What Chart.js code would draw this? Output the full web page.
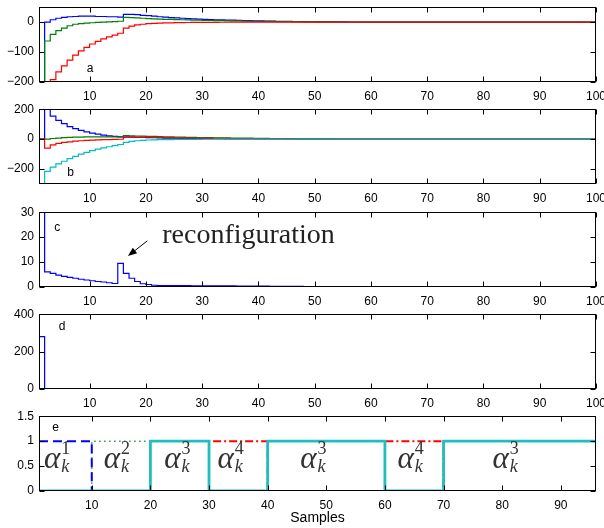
<!DOCTYPE html>
<html><head><meta charset="utf-8">
<script src="https://cdn.jsdelivr.net/npm/chart.js@4.4.1/dist/chart.umd.min.js"></script>
<style>
html,body{margin:0;padding:0;background:#fff;overflow:hidden;width:604px;height:528px;}
body{position:relative;}
.wrap{position:absolute;left:0;width:624px;}
</style></head><body>
<div class="wrap" id="wa"><canvas></canvas></div>
<div class="wrap" id="wb"><canvas></canvas></div>
<div class="wrap" id="wc"><canvas></canvas></div>
<div class="wrap" id="wd"><canvas></canvas></div>
<div class="wrap" id="we"><canvas></canvas></div>
<script>
// ---------- data ----------
const samples = Array.from({length: 100}, (_, i) => i + 1);

const xTicksMain = [10,20,30,40,50,60,70,80,90,100];
const xTicksE = [10,20,30,40,50,60,70,80,90];
const yTicksA = [-200,-100,0];
const yTicksB = [-200,0,200];
const yTicksC = [0,10,20,30];
const yTicksD = [0,200,400];
const yTicksE = [0,0.5,1,1.5];

const aBlue = [
 -350,0,8,13,16,18,19,20,20,20,
 19,19,18,18,17,26,26,25,23,22,
 20,18,17,15,14,13,12,11,10,9,
 8.5,8,7.5,7,6.5,6,5.5,5,4.5,4,
 3.6,3.2,2.9,2.6,2.3,2,1.8,1.6,1.4,1.2,
 1.1,1,0.9,0.8,0.7,0.6,0.5,0.5,0.4,0.4,
 0.3,0.3,0.3,0.2,0.2,0.2,0.2,0.1,0.1,0.1,
 0.1,0.1,0,0,0,0,0,0,0,0,
 0,0,0,0,0,0,0,0,0,0,
 0,0,0,0,0,0,0,0,0,0];
const aGreen = [
 -400,-63,-41,-28,-20,-12,-7,-5,-3,-2,
 -1,0,1,2,3,16,15,14,13,12,
 11,10,9.5,9,8.5,8,7.5,7,6.5,6,
 5.5,5,4.8,4.5,4.2,4,3.7,3.4,3.1,2.8,
 2.5,2.3,2.1,1.9,1.7,1.5,1.3,1.2,1.1,1,
 0.9,0.8,0.7,0.6,0.5,0.5,0.4,0.4,0.3,0.3,
 0.2,0.2,0.2,0.1,0.1,0.1,0.1,0,0,0,
 0,0,0,0,0,0,0,0,0,0,
 0,0,0,0,0,0,0,0,0,0,
 0,0,0,0,0,0,0,0,0,0];
const aRed = [
 -600,-400,-192,-166,-146,-127,-110,-96,-84,-73,
 -64,-56,-49,-43,-37,-20,-13,-9,-7,-5,
 -4,-3.2,-2.6,-2.1,-1.7,-1.4,-1.1,-0.9,-0.7,-0.6,
 -0.5,-0.4,-0.3,-0.3,-0.2,-0.2,-0.1,-0.1,-0.1,0,
 0,0,0,0,0,0,0,0,0,0,
 0,0,0,0,0,0,0,0,0,0,
 0,0,0,0,0,0,0,0,0,0,
 0,0,0,0,0,0,0,0,0,0,
 0,0,0,0,0,0,0,0,0,0,
 0,0,0,0,0,0,0,0,0,0];

const bBlue = [
 0,198,154,125,103,84,70,58,48,40,
 33,27,22,18,15,14,13,12,11,10,
 9,8,7.2,6.5,5.9,5.3,4.8,4.3,3.9,3.5,
 3.1,2.8,2.5,2.2,2,1.8,1.6,1.4,1.2,1.1,
 1,0.9,0.8,0.7,0.6,0.5,0.4,0.4,0.3,0.3,
 0.2,0.2,0.2,0.2,0.2,0.1,0.1,0.1,0.1,0.1,
 0,0,0,0,0,0,0,0,0,0,
 0,0,0,0,0,0,0,0,0,0,
 0,0,0,0,0,0,0,0,0,0,
 0,0,0,0,0,0,0,0,0,0];
const bGreen = [
 0,0,4,7,10,12,13,14,15,15,
 15,15,15,15,15,23,22,21,20,19,
 18,17,16,15,14,13,12,11,10.5,10,
 9.5,9,8.5,8,7.5,7,6.5,6,5.5,5,
 4.6,4.2,3.8,3.4,3,2.7,2.4,2.1,1.8,1.6,
 1.4,1.2,1,0.9,0.8,0.7,0.6,0.5,0.4,0.3,
 0.3,0.2,0.2,0.2,0.1,0.1,0.1,0.1,0,0,
 0,0,0,0,0,0,0,0,0,0,
 0,0,0,0,0,0,0,0,0,0,
 0,0,0,0,0,0,0,0,0,0];
const bRed = [
 0,-60,-38,-29,-22,-18,-14,-11,-9,-7,
 -5,-4,-3,-2,-1,15,15,14,14,13,
 12,11,10,9.5,9,8.5,8,7.5,7,6.5,
 6,5.5,5,4.6,4.2,3.8,3.4,3,2.7,2.4,
 2.1,1.8,1.6,1.4,1.2,1,0.9,0.8,0.7,0.6,
 0.5,0.4,0.4,0.3,0.3,0.2,0.2,0.1,0.1,0.1,
 0,0,0,0,0,0,0,0,0,0,
 0,0,0,0,0,0,0,0,0,0,
 0,0,0,0,0,0,0,0,0,0,
 0,0,0,0,0,0,0,0,0,0];
const bCyan = [
 -400,-216,-187,-165,-148,-130,-115,-100,-88,-77,
 -67,-59,-51,-44,-36,-22,-15,-11,-8,-6,
 -5,-4,-3.5,-3,-2.5,-2.1,-1.8,-1.5,-1.2,-1,
 -0.8,-0.7,-0.6,-0.5,-0.4,-0.3,-0.3,-0.2,-0.2,-0.1,
 0,0,0,0,0,0,0,0,0,0,
 0,0,0,0,0,0,0,0,0,0,
 0,0,0,0,0,0,0,0,0,0,
 0,0,0,0,0,0,0,0,0,0,
 0,0,0,0,0,0,0,0,0,0,
 0,0,0,0,0,0,0,0,0,0];

const cBlue = [
 60,6.1,5.5,4.8,4.3,3.9,3.5,3.1,2.8,2.5,
 2.2,2,1.7,1.4,9.5,5.5,3.5,2.2,1.3,1,
 0.7,0.6,0.6,0.6,0.55,0.55,0.55,0.5,0.5,0.5,
 0.5,0.5,0.45,0.45,0.45,0.4,0.4,0.4,0.35,0.35,
 0.35,0.3,0.3,0.3,0.25,0.25,0.25,0.2,0.2,0.2,
 0.15,0.15,0.15,0.1,0.1,0.1,0.1,0.05,0.05,0.05,
 0,0,0,0,0,0,0,0,0,0,
 0,0,0,0,0,0,0,0,0,0,
 0,0,0,0,0,0,0,0,0,0,
 0,0,0,0,0,0,0,0,0,0];

const dBlue = [
 280,0,0,0,0,0,0,0,0,0,
 0,0,0,0,0,0,0,0,0,0,
 0,0,0,0,0,0,0,0,0,0,
 0,0,0,0,0,0,0,0,0,0,
 0,0,0,0,0,0,0,0,0,0,
 0,0,0,0,0,0,0,0,0,0,
 0,0,0,0,0,0,0,0,0,0,
 0,0,0,0,0,0,0,0,0,0,
 0,0,0,0,0,0,0,0,0,0,
 0,0,0,0,0,0,0,0,0,0];

const eAlpha1 = [
 1,1,1,1,1,1,1,1,1,0,
 0,0,0,0,0,0,0,0,0,0,
 0,0,0,0,0,0,0,0,0,0,
 0,0,0,0,0,0,0,0,0,0,
 0,0,0,0,0,0,0,0,0,0,
 0,0,0,0,0,0,0,0,0,0,
 0,0,0,0,0,0,0,0,0,0,
 0,0,0,0,0,0,0,0,0,0,
 0,0,0,0,0,0,0,0,0,0,
 0,0,0,0,0,0,0,0,0,0];
const eAlpha2 = [
 0,0,0,0,0,0,0,0,0,1,
 1,1,1,1,1,1,1,1,1,0,
 0,0,0,0,0,0,0,0,0,0,
 0,0,0,0,0,0,0,0,0,0,
 0,0,0,0,0,0,0,0,0,0,
 0,0,0,0,0,0,0,0,0,0,
 0,0,0,0,0,0,0,0,0,0,
 0,0,0,0,0,0,0,0,0,0,
 0,0,0,0,0,0,0,0,0,0,
 0,0,0,0,0,0,0,0,0,0];
const eAlpha3 = [
 0,0,0,0,0,0,0,0,0,0,
 0,0,0,0,0,0,0,0,0,1,
 1,1,1,1,1,1,1,1,1,0,
 0,0,0,0,0,0,0,0,0,1,
 1,1,1,1,1,1,1,1,1,1,
 1,1,1,1,1,1,1,1,1,0,
 0,0,0,0,0,0,0,0,0,1,
 1,1,1,1,1,1,1,1,1,1,
 1,1,1,1,1,1,1,1,1,1,
 1,1,1,1,1,1,1,1,1,1];
const eAlpha4 = [
 0,0,0,0,0,0,0,0,0,0,
 0,0,0,0,0,0,0,0,0,0,
 0,0,0,0,0,0,0,0,0,1,
 1,1,1,1,1,1,1,1,1,0,
 0,0,0,0,0,0,0,0,0,0,
 0,0,0,0,0,0,0,0,0,1,
 1,1,1,1,1,1,1,1,1,0,
 0,0,0,0,0,0,0,0,0,0,
 0,0,0,0,0,0,0,0,0,0,
 0,0,0,0,0,0,0,0,0,0];

// mode labels in panel e (x position in samples, superscript)
const eLabelX = [4.1, 14.3, 24.6, 33.7, 47.8, 64.4, 80.6];
const eLabelSup = ['1','2','3','4','3','4','3'];

// ---------- drawing ----------
const SANS = "'Liberation Sans', Arial, Helvetica, sans-serif";
const SERIF = "'Liberation Serif', 'Times New Roman', serif";
Chart.defaults.font.family = SANS;
Chart.defaults.color = '#000';

const fmt = v => (v < 0 ? '\u2212' + Math.abs(v) : String(v));

const boxPlugin = {
  id: 'matBox',
  afterDraw(chart) {
    const {ctx, chartArea: a, scales: {x, y}} = chart;
    ctx.save();
    ctx.strokeStyle = '#000';
    ctx.lineWidth = 1;
    const L = Math.round(a.left) + 0.5, R = Math.round(a.right) - 0.5;
    const T = Math.round(a.top) + 0.5, B = Math.round(a.bottom) - 0.5;
    ctx.beginPath();
    x.ticks.forEach(t => {
      const p = Math.round(x.getPixelForValue(t.value)) + 0.5;
      ctx.moveTo(p, B); ctx.lineTo(p, B - 5);
      ctx.moveTo(p, T); ctx.lineTo(p, T + 5);
    });
    y.ticks.forEach(t => {
      const p = Math.round(y.getPixelForValue(t.value)) + 0.5;
      ctx.moveTo(L, p); ctx.lineTo(L + 5, p);
      ctx.moveTo(R, p); ctx.lineTo(R - 5, p);
    });
    ctx.stroke();
    ctx.strokeRect(L, T, R - L, B - T);
    ctx.restore();
  }
};

function label(chart, text, xv, yv) {
  const {ctx, scales: {x, y}} = chart;
  ctx.save();
  ctx.font = '12px ' + SANS;
  ctx.fillStyle = '#000';
  ctx.textAlign = 'center';
  ctx.textBaseline = 'middle';
  ctx.fillText(text, x.getPixelForValue(xv), y.getPixelForValue(yv));
  ctx.restore();
}

const PAD_T = 10, PLOT_H = 77, AX_H = 24;

function panel(id, plotTop, cfg) {
  const wrap = document.getElementById(id);
  const extra = cfg.extraBottom || 0;
  const h = PAD_T + PLOT_H + AX_H + extra;
  wrap.style.top = (plotTop - PAD_T) + 'px';
  wrap.style.height = h + 'px';
  const canvas = wrap.querySelector('canvas');
  return new Chart(canvas, {
    type: 'line',
    data: {
      datasets: cfg.series.map(s => ({
        data: s.values.map((v, i) => ({x: samples[i], y: v})),
        borderColor: s.color,
        borderWidth: s.width || 1,
        borderDash: s.dash || [],
        stepped: 'before',
        pointRadius: 0,
        fill: false,
        tension: 0,
        order: s.order
      }))
    },
    options: {
      responsive: true,
      maintainAspectRatio: false,
      animation: false,
      devicePixelRatio: 1,
      events: [],
      layout: {padding: {top: PAD_T, right: 28, bottom: extra, left: 0}},
      plugins: {legend: {display: false}, tooltip: {enabled: false}},
      scales: {
        x: {
          type: 'linear', min: 1, max: cfg.xMax,
          afterBuildTicks: s => { s.ticks = cfg.xTicks.map(v => ({value: v})); },
          afterFit: s => { s.height = AX_H; },
          grid: {display: false, drawTicks: false},
          border: {display: false},
          ticks: {padding: 7, maxRotation: 0, autoSkip: false, color: '#000',
                  font: {size: 12, family: SANS}, callback: v => fmt(v)}
        },
        y: {
          type: 'linear', min: cfg.yMin, max: cfg.yMax,
          afterBuildTicks: s => { s.ticks = cfg.yTicks.map(v => ({value: v})); },
          afterFit: s => { s.width = 39; },
          grid: {display: false, drawTicks: false},
          border: {display: false},
          ticks: {padding: 5, autoSkip: false, color: '#000',
                  font: {size: 12, family: SANS}, callback: v => fmt(v)}
        }
      }
    },
    plugins: [boxPlugin, {id: 'extras', afterDraw: c => cfg.extras && cfg.extras(c)}]
  });
}

const BLUE = '#0000ff', GREEN = '#008000', RED = '#ff0000', CYAN = '#00bfbf';

panel('wa', 5, {
  xMax: 100, xTicks: xTicksMain, yMin: -200, yMax: 50, yTicks: yTicksA,
  series: [
    {values: aBlue, color: BLUE, width: 1.2, order: 2},
    {values: aGreen, color: GREEN, width: 1.2, order: 1},
    {values: aRed, color: RED, width: 1.2, order: 0}
  ],
  extras: c => label(c, 'a', 10.1, -155)
});

panel('wb', 107, {
  xMax: 100, xTicks: xTicksMain, yMin: -300, yMax: 200, yTicks: yTicksB,
  series: [
    {values: bBlue, color: BLUE, width: 1.2, order: 3},
    {values: bGreen, color: GREEN, width: 1.2, order: 2},
    {values: bRed, color: RED, width: 1.2, order: 1},
    {values: bCyan, color: CYAN, width: 1.2, order: 0}
  ],
  extras: c => label(c, 'b', 6.6, -222)
});

panel('wc', 210, {
  xMax: 100, xTicks: xTicksMain, yMin: 0, yMax: 30, yTicks: yTicksC,
  series: [{values: cBlue, color: BLUE, width: 1.2, order: 0}],
  extras: c => {
    label(c, 'c', 4.25, 23.7);
    const {ctx, scales: {x, y}} = c;
    ctx.save();
    ctx.font = '28px ' + SERIF;
    ctx.fillStyle = '#222';
    ctx.textAlign = 'left';
    ctx.textBaseline = 'alphabetic';
    ctx.fillText('reconfiguration', x.getPixelForValue(22.9), y.getPixelForValue(17.5));
    const x1 = x.getPixelForValue(20.25), y1 = y.getPixelForValue(18.5);
    const x2 = x.getPixelForValue(16.8), y2 = y.getPixelForValue(12.4);
    const ang = Math.atan2(y2 - y1, x2 - x1);
    ctx.strokeStyle = '#000'; ctx.lineWidth = 1;
    ctx.beginPath(); ctx.moveTo(x1, y1);
    ctx.lineTo(x2 - 6 * Math.cos(ang), y2 - 6 * Math.sin(ang)); ctx.stroke();
    ctx.fillStyle = '#000';
    ctx.beginPath();
    ctx.moveTo(x2, y2);
    ctx.lineTo(x2 - 9 * Math.cos(ang) + 3.5 * Math.sin(ang), y2 - 9 * Math.sin(ang) - 3.5 * Math.cos(ang));
    ctx.lineTo(x2 - 9 * Math.cos(ang) - 3.5 * Math.sin(ang), y2 - 9 * Math.sin(ang) + 3.5 * Math.cos(ang));
    ctx.closePath(); ctx.fill();
    ctx.restore();
  }
});

panel('wd', 312, {
  xMax: 100, xTicks: xTicksMain, yMin: 0, yMax: 400, yTicks: yTicksD,
  series: [{values: dBlue, color: BLUE, width: 1.2, order: 0}],
  extras: c => label(c, 'd', 5.1, 335)
});

panel('we', 414, {
  xMax: 96, xTicks: xTicksE, yMin: 0, yMax: 1.5, yTicks: yTicksE, extraBottom: 16,
  series: [
    {values: eAlpha1, color: BLUE, width: 2, dash: [9, 5], order: 2},
    {values: eAlpha2, color: '#22a022', width: 1.5, dash: [1.5, 3.5], order: 3},
    {values: eAlpha3, color: '#1fbfbf', width: 2.8, order: 0},
    {values: eAlpha4, color: RED, width: 2, dash: [8, 3, 2, 3], order: 1}
  ],
  extras: c => {
    label(c, 'e', 3.85, 1.27);
    const {ctx, chartArea: a, scales: {x, y}} = c;
    ctx.save();
    ctx.fillStyle = '#333';
    ctx.textAlign = 'left';
    ctx.textBaseline = 'alphabetic';
    const FA = 'italic 31px ' + SERIF, FS = '18px ' + SERIF, FK = 'italic 18px ' + SERIF;
    eLabelX.forEach((xv, i) => {
      const cx = x.getPixelForValue(xv), yb = y.getPixelForValue(0.47);
      ctx.font = FA; const wa = ctx.measureText('\u03b1').width;
      ctx.font = FS; const ws = ctx.measureText(eLabelSup[i]).width;
      const x0 = cx - (wa + 1 + ws) / 2;
      ctx.font = FA; ctx.fillText('\u03b1', x0, yb);
      ctx.font = FS; ctx.fillText(eLabelSup[i], x0 + wa + 1, yb - 14);
      ctx.font = FK; ctx.fillText('k', x0 + wa + 1, yb + 4);
    });
    ctx.font = '14px ' + SANS;
    ctx.fillStyle = '#000';
    ctx.textAlign = 'center';
    ctx.textBaseline = 'middle';
    ctx.fillText('Samples', (a.left + a.right) / 2, a.bottom + 27);
    ctx.restore();
  }
});
</script>
</body></html>
